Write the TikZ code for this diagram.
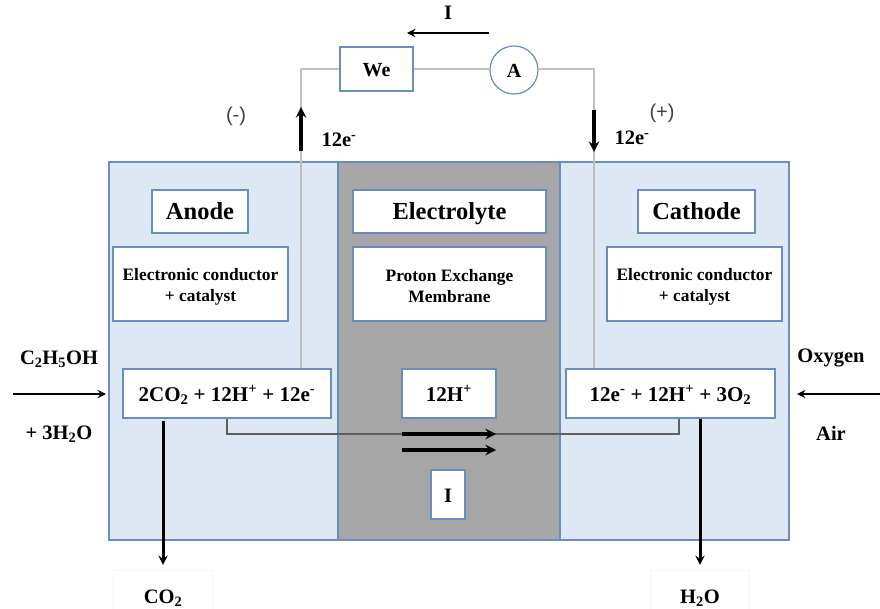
\documentclass[tikz,border=0pt]{standalone}
\usepackage{fontspec}
\setmainfont{Liberation Serif}
\newfontfamily\signfont{Liberation Sans}
\definecolor{panelblue}{HTML}{DEE8F5}
\definecolor{edgeblue}{HTML}{6A8CC0}
\definecolor{coregray}{HTML}{A6A6A6}
\definecolor{wiregray}{HTML}{BFBFBF}
\definecolor{linkgray}{HTML}{5F5F5F}

\tikzstyle{panel} = [rectangle,draw=edgeblue,line width=1.2pt,inner sep=0pt]
\tikzstyle{labelbox} = [rectangle,draw=edgeblue,line width=1.2pt,fill=white,inner sep=0pt,align=center,font=\bfseries]
\tikzstyle{oneline} = [text height=17pt,text depth=1pt]
\tikzstyle{twoline} = []
\tikzstyle{plain} = [inner sep=0pt,font=\bfseries\fontsize{20.5}{24}\selectfont]
\tikzstyle{product} = [plain,draw=black!4,minimum width=99pt,minimum height=40pt,text height=28pt,text depth=2pt]
\tikzstyle{sign} = [inner sep=0pt,font=\signfont\fontsize{20}{24}\selectfont,text=black!75]
\tikzstyle{wire} = [draw=wiregray,line width=2.2pt]
\tikzstyle{link} = [draw=linkgray,line width=2pt]
\tikzstyle{arrowdecorate} = [->,>=stealth,line width=2.7pt,black]
\tikzstyle{arrowthick} = [->,>=stealth,line width=3.6pt,black]

\begin{document}
\begin{tikzpicture}[x=1pt,y=-1pt]
      \useasboundingbox (0,0) rectangle (880,609);

      %panels
      \foreach \nodename/\x/\w/\color in {
        anodepanel/223.5/229/panelblue,
        corepanel/449/222/coregray,
        cathodepanel/674.5/229/panelblue}
      {
        \node[panel, fill=\color, minimum width=\w pt, minimum height=378pt] (\nodename) at (\x,351) {};
      };

      %boxes
      \foreach \nodename/\x/\y/\w/\h/\size/\lines/\txt in {
        anode/200/211.5/96/43/24.5/oneline/{Anode},
        electrolyte/449.5/211.5/193/43/24.5/oneline/{Electrolyte},
        cathode/696.5/211.5/117/43/24.5/oneline/{Cathode},
        condleft/200.5/284/175/74/17.4/twoline/{\rule{0pt}{17pt}Electronic conductor\\+ catalyst},
        membrane/449.5/284/193/74/17.4/twoline/{\rule{0pt}{17pt}Proton Exchange\\Membrane},
        condright/694.5/284/175/74/17.4/twoline/{\rule{0pt}{17pt}Electronic conductor\\+ catalyst},
        reactleft/227/393.5/208/49/21/oneline/{2CO\textsubscript{2} + 12H\textsuperscript{+} + 12e\textsuperscript{-}},
        proton/449/393.5/94/49/21/oneline/{12H\textsuperscript{+}},
        reactright/670.5/393.5/209/49/21/oneline/{12e\textsuperscript{-} + 12H\textsuperscript{+} + 3O\textsubscript{2}},
        currentbox/448/494.5/34/49/20.5/oneline/{I},
        we/376.5/69/73/44/20/oneline/{We}}
      {
        \node[labelbox, \lines, minimum width=\w pt, minimum height=\h pt, font=\bfseries\fontsize{\size}{21}\selectfont] (\nodename) at (\x,\y) {\txt};
      };
      \node[labelbox, oneline, circle, minimum size=48pt, font=\bfseries\fontsize{20}{24}\selectfont] (ammeter) at (514,70) {A};

      %circuit
      \coordinate (cornerleft) at (301,69);
      \coordinate (cornerright) at (594,69);
      \draw[wire] (cornerleft |- reactleft.north) -- (cornerleft) -- (we.west);
      \draw[wire] (we.east) -- (we.east -| ammeter.west);
      \draw[wire] (ammeter.east |- cornerright) -- (cornerright) -- (cornerright |- reactright.north);

      %link between the reactions
      \coordinate (linkleft) at (227,434);
      \coordinate (linkright) at (679,434);
      \draw[link] (linkleft |- reactleft.south) -- (linkleft) -- (linkright) -- (linkright |- reactright.south);

      %arrows
      \foreach \startx/\starty/\endx/\endy/\style in {
        301/151/301/107/arrowthick,
        594/110/594/152/arrowthick,
        489/33/407/33/arrowdecorate,
        402/434/496/434/arrowthick,
        402/450/496/450/arrowthick,
        13/394/106/394/arrowdecorate,
        880/394/797/394/arrowdecorate}
      {
        \draw[\style] (\startx,\starty) -- (\endx,\endy);
      };

      %products
      \node[product] (cotwo) at (163,590) {CO\textsubscript{2}};
      \node[product] (water) at (700,590) {H\textsubscript{2}O};
      \draw[arrowdecorate, line width=3pt, shorten >=5pt] (reactleft.south -| cotwo.north) ++(0,2) -- (cotwo.north);
      \draw[arrowdecorate, line width=3pt, shorten >=5pt] (reactright.south -| water.north) -- (water.north);

      %labels
      \foreach \nodename/\x/\y/\txt in {
        current/448/13/{I},
        eleft/339/140/{12e\textsuperscript{-}},
        eright/632/138/{12e\textsuperscript{-}},
        ethanol/59/359/{C\textsubscript{2}H\textsubscript{5}OH},
        waterin/59/434/{+ 3H\textsubscript{2}O},
        oxygen/831/358/{Oxygen},
        air/831/433/{Air}}
      {
        \node[plain] (\nodename) at (\x,\y) {\txt};
      };
      \node[sign] (minus) at (236,116) {(-)};
      \node[sign] (plus) at (662,113) {(+)};
    \end{tikzpicture}
\end{document}
